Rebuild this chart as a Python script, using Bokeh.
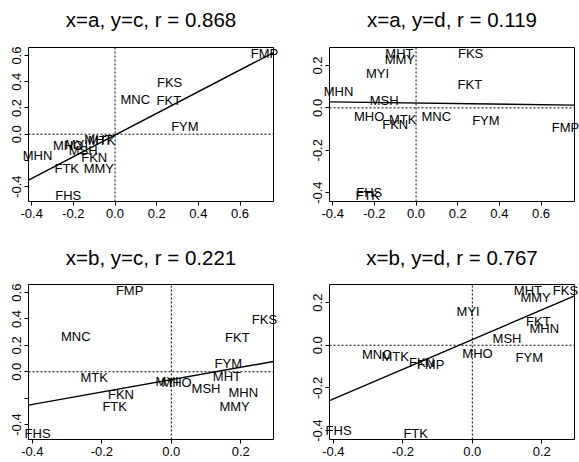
from bokeh.plotting import figure
from bokeh.models import Label, LinearAxis, FixedTicker, PrintfTickFormatter, Range1d, BoxAnnotation
from bokeh.layouts import column, row
from bokeh.embed import file_html
from bokeh.resources import INLINE

# ---- data ----
names = ["FHS", "FKN", "FKS", "FKT", "FMP", "FTK", "FYM",
         "MHN", "MHO", "MHT", "MMY", "MNC", "MSH", "MTK", "MYI"]
a = [-0.225, -0.100, 0.262, 0.258, 0.717, -0.232, 0.335,
     -0.372, -0.225, -0.080, -0.078, 0.097, -0.153, -0.064, -0.185]
b = [-0.385, -0.145, 0.268, 0.190, -0.120, -0.163, 0.164,
     0.207, 0.015, 0.160, 0.182, -0.275, 0.100, -0.222, -0.012]
c = [-0.470, -0.175, 0.395, 0.258, 0.618, -0.265, 0.059,
     -0.160, -0.085, -0.038, -0.260, 0.265, -0.128, -0.045, -0.077]
d = [-0.400, -0.080, 0.255, 0.110, -0.092, -0.415, -0.058,
     0.077, -0.039, 0.258, 0.226, -0.043, 0.034, -0.054, 0.160]

titles = ["x=a, y=c, r = 0.868", "x=a, y=d, r = 0.119",
          "x=b, y=c, r = 0.221", "x=b, y=d, r = 0.767"]
fit_intercept = [-0.006, 0.023, -0.060, 0.027]
fit_slope = [0.827, -0.013, 0.470, 0.696]

ticks_a = [-0.4, -0.2, 0.0, 0.2, 0.4, 0.6]
ticks_b = [-0.4, -0.2, 0.0, 0.2]
ticks_c = [-0.4, -0.2, 0.0, 0.2, 0.4, 0.6]
ticks_d = [-0.4, -0.2, 0.0, 0.2]
hidden_c = [-0.2]
hidden_d = []

FONT = "Liberation Sans"


def data_span(v):
    lo, hi = min(v), max(v)
    pad = 0.04 * (hi - lo)
    return lo - pad, hi + pad


def panel(xv, yv, xt, yt, yhide, title, ic, sl, W, H, L, R, T, B, title_y):
    # box (plot region) in figure pixels: L..R, T..B ; whole figure is the frame
    x0, x1 = data_span(xv)
    y0, y1 = data_span(yv)
    kx = (R - L) / (x1 - x0)
    ky = (B - T) / (y1 - y0)
    xr = Range1d(x0 - L / kx, x1 + (W - R) / kx)
    yr = Range1d(y0 - (H - B) / ky, y1 + T / ky)

    p = figure(frame_width=W, frame_height=H, min_border=0,
               x_range=xr, y_range=yr, x_axis_location=None, y_axis_location=None,
               title=None, output_backend="svg", toolbar_location=None)
    p.background_fill_color = "white"
    p.border_fill_color = "white"
    p.outline_line_color = None
    p.xgrid.visible = False
    p.ygrid.visible = False

    xaxis = LinearAxis(fixed_location=y0, ticker=FixedTicker(ticks=xt))
    yaxis = LinearAxis(fixed_location=x0, ticker=FixedTicker(ticks=yt))
    for ax in (xaxis, yaxis):
        ax.formatter = PrintfTickFormatter(format="%.1f")
        ax.minor_tick_line_color = None
        ax.major_tick_in = 0
        ax.major_tick_out = 4
        ax.major_tick_line_color = "black"
        ax.axis_line_color = None
        ax.major_label_standoff = 3
        ax.major_label_text_font = FONT
        ax.major_label_text_font_size = "13px"
        ax.major_label_text_color = "black"
    yaxis.major_label_orientation = "vertical"
    if yhide:
        yaxis.major_label_overrides = {v: "" for v in yhide}
    p.add_layout(xaxis, "below")
    p.add_layout(yaxis, "left")

    # box around the plot region
    p.add_layout(BoxAnnotation(left=x0, right=x1, bottom=y0, top=y1,
                               fill_alpha=0, line_color="black", line_alpha=1,
                               line_width=1))
    # dotted zero lines inside the box
    p.segment(x0=[x0, 0], y0=[0, y0], x1=[x1, 0], y1=[0, y1],
              line_color="black", line_dash="2 2", line_width=1)
    # fitted line
    p.line(x=[x0, x1], y=[ic + sl * x0, ic + sl * x1], line_color="black", line_width=1.4)

    for nm, xx, yy in zip(names, xv, yv):
        p.add_layout(Label(x=xx, y=yy, text=nm,
                           text_align="center", text_baseline="middle",
                           text_font=FONT, text_font_size="13px",
                           text_color="black"))
    # title, centred over the box
    p.add_layout(Label(x=(x0 + x1) / 2, y=y1 + (T - title_y) / ky, text=title,
                       text_align="center", text_baseline="middle",
                       text_font=FONT, text_font_size="20.5px",
                       text_color="black"))
    return p


p1 = panel(a, c, ticks_a, ticks_c, hidden_c, titles[0], fit_intercept[0], fit_slope[0],
           289, 230, 28, 273, 47, 201, 19)
p2 = panel(a, d, ticks_a, ticks_d, hidden_d, titles[1], fit_intercept[1], fit_slope[1],
           290, 230, 40, 285, 47, 201, 19)
p3 = panel(b, c, ticks_b, ticks_c, hidden_c, titles[2], fit_intercept[2], fit_slope[2],
           289, 232, 28, 273, 54, 209, 27)
p4 = panel(b, d, ticks_b, ticks_d, hidden_d, titles[3], fit_intercept[3], fit_slope[3],
           290, 232, 40, 285, 54, 209, 27)

layout = column(row(p1, p2), row(p3, p4))
open("out.html", "w").write(file_html(layout, INLINE))
